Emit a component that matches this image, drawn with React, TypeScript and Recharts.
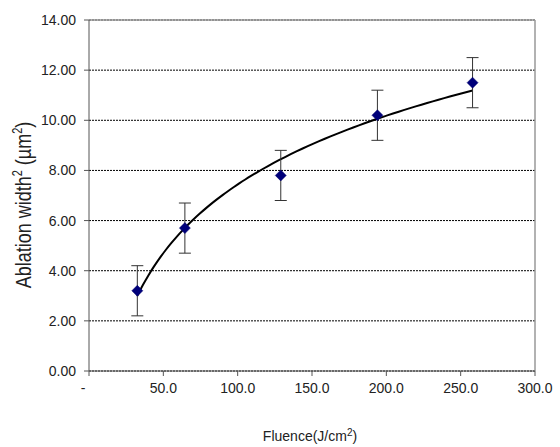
import React from "react";
import {
  ComposedChart,
  Scatter,
  Line,
  XAxis,
  YAxis,
  CartesianGrid,
  ErrorBar,
  ReferenceLine,
} from "recharts";

const fluence = [32.5, 64.5, 129, 194, 258];
const widthSq = [3.2, 5.7, 7.8, 10.2, 11.5];
const errors = [1.0, 1.0, 1.0, 1.0, 1.0];
const xTicks = [0, 50, 100, 150, 200, 250, 300];
const yTicks = [0, 2, 4, 6, 8, 10, 12, 14];

const points = fluence.map((x, i) => ({ x, y: widthSq[i], err: errors[i] }));

// Logarithmic trendline (least squares on ln x), like the spreadsheet's trendline
const lnx = fluence.map((v) => Math.log(v));
const mx = lnx.reduce((a, b) => a + b, 0) / lnx.length;
const my = widthSq.reduce((a, b) => a + b, 0) / widthSq.length;
let sxy = 0;
let sxx = 0;
lnx.forEach((l, i) => {
  sxy += (l - mx) * (widthSq[i] - my);
  sxx += (l - mx) * (l - mx);
});
const slope = sxy / sxx;
const intercept = my - slope * mx;
const xMin = fluence[0];
const xMax = fluence[fluence.length - 1];
const trend = Array.from({ length: 60 }, (_, i) => {
  const x = xMin + ((xMax - xMin) * i) / 59;
  return { x, t: slope * Math.log(x) + intercept };
});

const FONT = "'Liberation Sans', Arial, sans-serif";

const Diamond = (props: any) => {
  const { cx, cy } = props;
  if (cx == null || cy == null) return null;
  const r = 5.5;
  return (
    <path
      d={`M${cx},${cy - r}L${cx + r},${cy}L${cx},${cy + r}L${cx - r},${cy}Z`}
      fill="#00007a"
      stroke="#00006a"
      strokeWidth={0.5}
    />
  );
};

const XTick = (props: any) => {
  const { x, y, payload } = props;
  const v = payload.value;
  const label = v === 0 ? "-" : v.toFixed(1);
  return (
    <text
      x={v === 0 ? x - 6 : x}
      y={y}
      dy={15}
      textAnchor="middle"
      fontFamily={FONT}
      fontSize={14}
      fill="#222"
    >
      {label}
    </text>
  );
};

const YTick = (props: any) => {
  const { x, y, payload } = props;
  return (
    <text
      x={x - 6}
      y={y}
      dy={5}
      textAnchor="end"
      fontFamily={FONT}
      fontSize={14}
      fill="#222"
    >
      {payload.value.toFixed(2)}
    </text>
  );
};

export default function App() {
  return (
    <div style={{ position: "absolute", left: 0, top: 0, width: 560, height: 447 }}>
      <ComposedChart
        width={560}
        height={447}
        margin={{ top: 20, right: 25, bottom: 46, left: 0 }}
      >
        <CartesianGrid
          vertical={false}
          horizontal={true}
          stroke="#000"
          strokeDasharray="2 1"
          strokeWidth={1}
        />
        <ReferenceLine y={14} stroke="#999" strokeWidth={1.5} />
        <ReferenceLine x={300} stroke="#999" strokeWidth={1.5} />
        <XAxis
          type="number"
          dataKey="x"
          domain={[0, 300]}
          ticks={xTicks}
          interval={0}
          tick={<XTick />}
          tickSize={5}
          stroke="#555"
          height={30}
          allowDataOverflow
          label={(p: any) => (
            <text
              x={310}
              y={441}
              textAnchor="middle"
              fontFamily={FONT}
              fontSize={14}
              fill="#222"
            >
              Fluence(J/cm
              <tspan fontSize={10} dy={-5}>2</tspan>
              <tspan dy={5}>)</tspan>
            </text>
          )}
        />
        <YAxis
          type="number"
          dataKey="y"
          domain={[0, 14]}
          ticks={yTicks}
          interval={0}
          tick={<YTick />}
          tickSize={5}
          stroke="#555"
          width={89}
          label={(p: any) => (
            <text
              x={0}
              y={0}
              transform="translate(31, 205) rotate(-90) scale(1, 1.25)"
              textAnchor="middle"
              fontFamily={FONT}
              fontSize={18}
              fill="#222"
            >
              Ablation width
              <tspan fontSize={11} dy={-7}>2</tspan>
              <tspan dy={7}> (µm</tspan>
              <tspan fontSize={11} dy={-7}>2</tspan>
              <tspan dy={7}>)</tspan>
            </text>
          )}
        />
        <Line
          data={trend}
          dataKey="t"
          type="monotone"
          stroke="#000"
          strokeWidth={2}
          dot={false}
          activeDot={false}
          isAnimationActive={false}
        />
        <Scatter data={points} dataKey="y" shape={<Diamond />} isAnimationActive={false}>
          <ErrorBar
            dataKey="err"
            direction="y"
            width={6}
            stroke="#333"
            strokeWidth={1}
            isAnimationActive={false}
          />
        </Scatter>
      </ComposedChart>
    </div>
  );
}
